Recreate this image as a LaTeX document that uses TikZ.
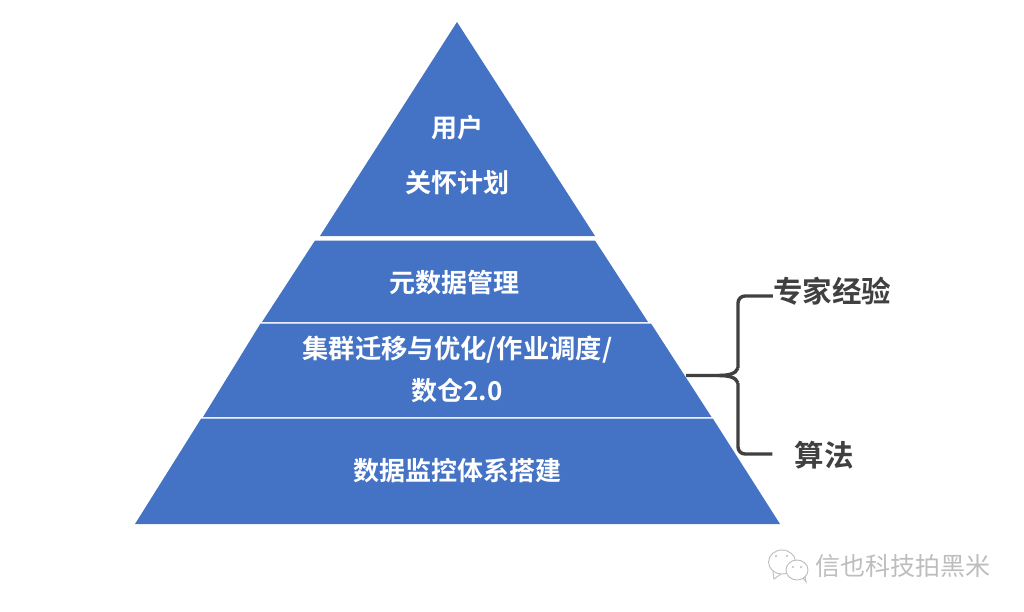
\documentclass[tikz,border=0pt]{standalone}
\usepackage{fontspec}
\setmainfont{Noto Sans CJK SC}[BoldFont={Noto Sans CJK SC Bold}]
\definecolor{pyr}{HTML}{4472C4}
\definecolor{ink}{HTML}{404040}
\definecolor{wm}{HTML}{BDBDBD}
\tikzset{
  layer/.style={fill=pyr,draw=none},
  pyrtext/.style={text=white,font=\fontsize{26}{55}\selectfont\bfseries,align=center,inner sep=0pt},
  sidetext/.style={text=ink,inner sep=0pt,font=\fontsize{29.5}{34}\selectfont\bfseries},
  bracket/.style={draw=ink,line width=3.4pt,rounded corners=7pt},
  wmline/.style={draw=wm,line width=0.9pt,fill=white},
  wmtext/.style={text=wm,inner sep=0pt,font=\fontsize{25}{30}\selectfont}
}
\begin{document}
\begin{tikzpicture}[x=1pt,y=-1pt]
\useasboundingbox (0,0) rectangle (1024,612);
% pyramid layers
\fill[layer] (457,22) -- (595,236) -- (320,236) -- cycle;
\fill[layer] (595,240.5) -- (648,322) -- (262,322) -- (315,240.5) -- cycle;
\fill[layer] (651,323.5) -- (711.5,417) -- (203,417) -- (260.5,323.5) -- cycle;
\fill[layer] (712.8,418.5) -- (780,524) -- (135,524) -- (201.2,418.5) -- cycle;
% texts
\node[pyrtext] (t1) at (457.5,128) {用户};
\node[pyrtext] (t2) at (457,183) {关怀计划};
\node[pyrtext] (t3) at (454.5,283) {元数据管理};
\node[pyrtext,font=\fontsize{26.3}{55}\selectfont\bfseries] (t4) at (457.5,350) {集群迁移与优化/作业调度/};
\node[pyrtext] (t5) at (457,391) {数仓2.0};
\node[pyrtext] (t6) at (457.5,471) {数据监控体系搭建};
\node[sidetext] (exp) at (832,291) {专家经验};
\node[sidetext] (alg) at (824,455) {算法};
% bracket
\coordinate (stem) at (686,375.5);
\coordinate (joint) at (738,375.5);
\draw[bracket] (exp.west |- 0,296) -- (738,296) -- (738,368);
\draw[bracket] (alg.west |- 0,454) ++(-22,0) -- (738,454) -- (738,383);
\draw[draw=ink,line width=3.4pt] (stem) -- (718,375.5) .. controls (728,375.5) and (736,374) .. (738,368);
\draw[draw=ink,line width=3.4pt] (718,375.5) .. controls (728,375.5) and (736,377) .. (738,383);
% watermark
\draw[wmline] (782,562) ellipse (13.5 and 12);
\draw[wmline,fill=none] (773,571) -- (774,579) -- (781,574);
\fill[wm] (776,556) circle (1.2) (787,556) circle (1.2);
\draw[wmline] (797,570) ellipse (11 and 10);
\draw[wmline,fill=none] (803,578) -- (806,582) -- (805,576);
\fill[wm] (793,567) circle (1.2) (801,567) circle (1.2);
\node[wmtext] (wmark) at (903,566) {信也科技拍黑米};
\end{tikzpicture}
\end{document}
